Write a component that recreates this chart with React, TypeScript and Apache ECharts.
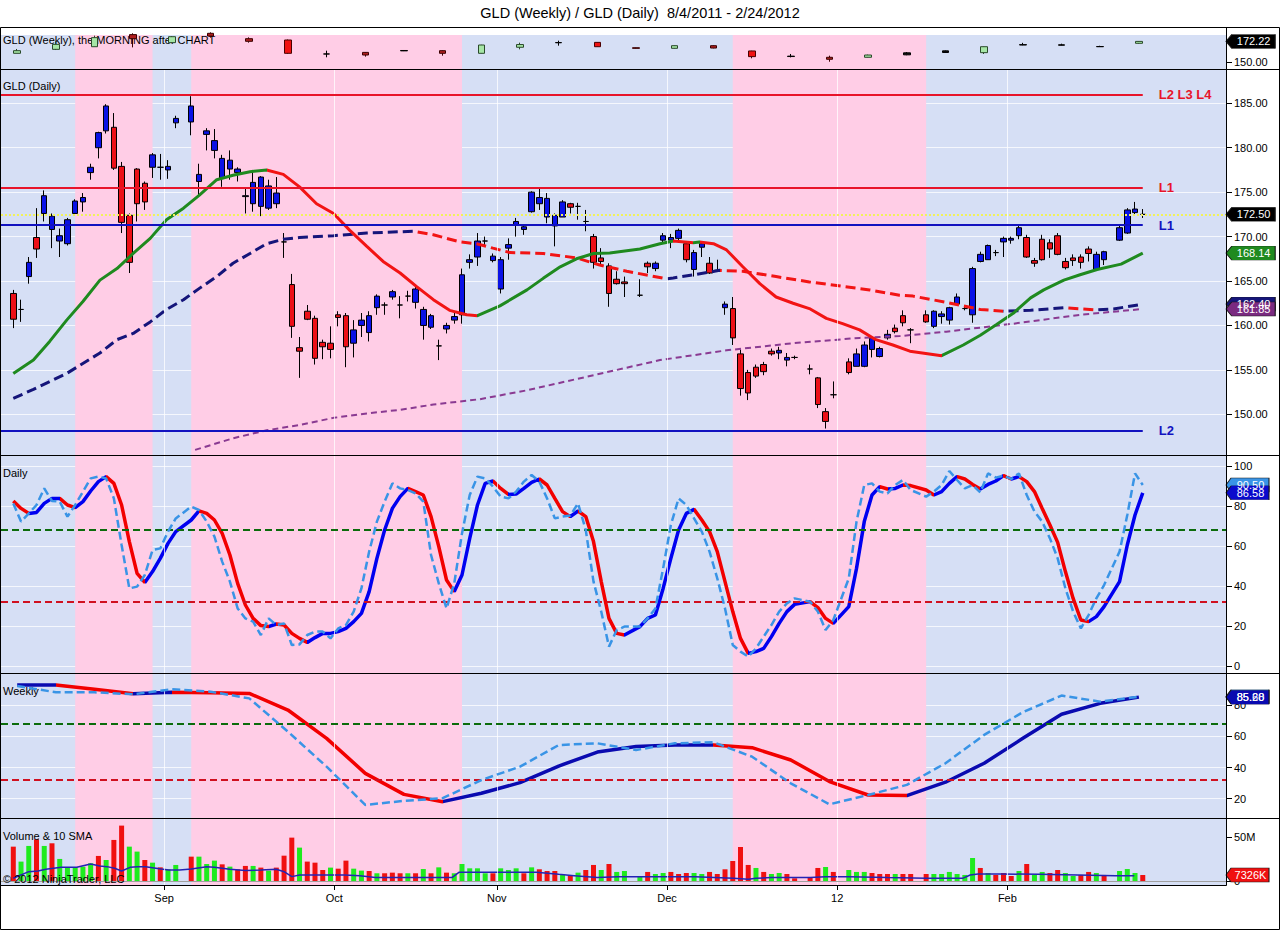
import React, { useEffect, useRef } from 'react';
import * as echarts from 'echarts';

const FONT = '"Liberation Sans", Arial, Helvetica, sans-serif';

const TITLE = 'GLD (Weekly) / GLD (Daily)  8/4/2011 - 2/24/2012';
const FIRST_DAY = [2011, 7, 4];
const SLOT_COUNT = 147;
const MONTH_NAMES = ['Jan', 'Feb', 'Mar', 'Apr', 'May', 'Jun', 'Jul', 'Aug', 'Sep', 'Oct', 'Nov', 'Dec'];

// ---- Daily OHLC, one entry per weekday slot (null = exchange holiday) ----
const OPEN = [
  163.6, 161.8, 165.5, 169.9, 172.6, 170.8, 169.5, 169.2, 172.6, 173.9,
  177.2, 180.0, 181.9, 182.3, 177.9, 172.4, 177.6, 176.0, 177.8, 177.8,
  177.5, 182.8, null, 182.9, 176.2, 181.5, 179.7, 176.6, 177.6, 177.2,
  174.5, 173.7, 173.4, 173.2, 173.7, 169.4, 164.6, 157.5, 161.6, 160.8,
  158.1, 158.0, 161.2, 161.1, 158.0, 160.0, 159.2, 162.0, 162.3, 163.2,
  162.3, 163.3, 162.6, 160.0, 159.8, 157.7, 159.6, 160.6, 161.2, 167.1,
  167.7, 169.5, 167.3, 164.1, 168.7, 171.3, 170.8, 172.8, 173.7, 172.2,
  171.2, 172.2, 173.7, 173.4, 171.7, 170.0, 167.6, 166.7, 165.2, 164.9,
  null, 163.4, 167.0, 166.4, 169.6, 169.6, 169.8, 169.2, 166.3, 168.8,
  167.0, 166.2, 162.0, 161.9, 156.8, 154.7, 155.3, 155.6, 157.1, 156.9,
  156.1, 156.4, null, 155.1, 154.1, 150.3, 152.2, null, 155.9, 155.4,
  155.4, 157.3, 156.5, 158.6, 159.7, 161.1, 159.5, null, 161.2, 159.9,
  161.0, 160.6, 162.4, 161.9, 161.2, 167.2, 167.4, 168.2, 169.4, 169.6,
  170.1, 169.9, 167.3, 169.7, 169.3, 170.1, 167.2, 167.6, 167.7, 168.6,
  166.3, 167.4, null, 169.6, 170.4, 172.7, 172.5,
];
const HIGH = [
  164.0, 162.9, 167.7, 173.2, 175.2, 172.6, 170.9, 172.1, 174.2, 174.9,
  178.2, 181.8, 184.9, 183.9, 178.4, 172.6, 177.7, 176.2, 179.4, 179.3,
  178.6, 183.6, null, 185.8, 178.2, 182.2, 182.1, 179.2, 179.7, 177.8,
  175.4, 177.5, 176.8, 176.4, 176.7, 170.4, 165.8, 158.7, 162.3, 161.1,
  158.4, 159.9, 161.6, 161.4, 160.6, 161.4, 161.6, 163.5, 162.6, 164.0,
  163.3, 163.9, 164.4, 162.1, 161.3, 158.4, 160.3, 161.4, 166.4, 168.0,
  170.4, 170.0, 168.1, 167.7, 169.8, 172.1, 171.4, 175.1, 175.4, 174.9,
  172.6, 174.1, 173.8, 173.8, 173.0, 170.3, 168.7, 167.0, 166.1, 165.5,
  null, 165.2, 167.2, 167.2, 170.4, 170.3, 170.9, 169.4, 168.5, 169.5,
  167.7, 167.4, 162.7, 163.2, 157.3, 155.0, 155.6, 155.9, 157.4, 157.6,
  156.9, 156.6, null, 155.6, 154.2, 150.7, 153.7, null, 156.3, 157.4,
  158.2, 158.8, 157.6, 159.5, 160.1, 161.7, 159.7, null, 161.7, 161.7,
  161.6, 162.1, 163.6, 162.3, 166.6, 168.3, 169.1, 168.5, 170.0, 170.0,
  171.2, 170.2, 167.6, 170.2, 169.7, 170.4, 167.6, 168.0, 168.0, 168.9,
  168.3, 168.4, null, 171.2, 173.2, 173.9, 173.1,
];
const LOW = [
  159.7, 160.4, 164.7, 167.6, 171.7, 168.7, 167.7, 169.0, 172.4, 172.8,
  176.4, 178.8, 181.6, 177.5, 170.4, 165.9, 171.7, 173.0, 176.6, 176.4,
  176.5, 182.2, null, 181.4, 174.5, 179.7, 178.8, 175.6, 176.4, 176.2,
  172.6, 172.8, 172.3, 173.0, 173.2, 167.6, 158.6, 154.1, 160.6, 155.6,
  156.2, 156.3, 159.9, 155.3, 156.4, 158.7, 158.2, 161.2, 161.2, 162.9,
  160.8, 162.7, 161.9, 158.4, 159.6, 156.1, 159.1, 160.2, 160.2, 166.4,
  166.7, 168.9, 167.1, 163.6, 167.4, 170.0, 170.2, 172.7, 173.0, 171.5,
  168.9, 172.2, 172.6, 171.9, 170.6, 166.4, 166.8, 162.1, 164.6, 163.2,
  null, 163.2, 165.9, 166.1, 169.2, 168.7, 169.6, 167.1, 165.5, 167.7,
  165.8, 166.1, 161.2, 157.8, 152.1, 151.6, 154.1, 154.4, 156.6, 156.2,
  155.4, 156.2, null, 154.5, 150.7, 148.4, 151.8, null, 154.5, 155.4,
  155.3, 156.4, 156.4, 158.4, 159.1, 159.9, 158.0, null, 160.3, 159.7,
  160.2, 160.1, 162.2, 161.7, 160.3, 167.1, 167.4, 167.8, 167.7, 169.2,
  169.7, 167.6, 166.6, 167.3, 167.6, 167.9, 166.3, 166.7, 166.4, 167.2,
  166.2, 166.8, null, 169.5, 170.3, 172.5, 172.1,
];
const CLOSE = [
  160.7, 161.8, 167.1, 168.6, 174.6, 172.3, 170.1, 171.9, 174.0, 174.4,
  177.8, 181.7, 184.7, 177.7, 171.6, 167.1, 173.7, 173.9, 179.2, 177.8,
  177.9, 183.3, null, 184.7, 177.0, 181.9, 180.8, 178.8, 178.6, 177.6,
  174.6, 176.1, 176.7, 175.7, 174.9, 169.4, 159.9, 157.1, 160.7, 156.3,
  157.6, 157.3, 160.9, 157.6, 159.5, 160.6, 161.1, 163.3, 162.3, 163.8,
  162.3, 163.3, 164.1, 161.8, 161.1, 157.7, 160.0, 161.0, 165.7, 167.4,
  169.5, 169.5, 167.8, 167.4, 169.1, 171.7, 171.1, 175.0, 174.4, 174.3,
  172.4, 173.9, 173.3, 173.4, 171.7, 167.1, 167.2, 163.6, 164.7, 164.7,
  null, 163.4, 166.6, 167.0, 170.1, 169.9, 170.7, 167.4, 168.2, 169.2,
  165.9, 166.2, 162.4, 158.6, 152.9, 152.4, 154.3, 154.8, 156.8, 157.2,
  156.4, 156.4, null, 155.1, 151.1, 149.2, 152.2, null, 154.7, 156.8,
  157.8, 158.6, 157.4, 159.0, 159.3, 160.3, 159.5, null, 160.4, 161.6,
  161.3, 162.0, 163.2, 161.9, 166.4, 168.0, 169.0, 168.2, 169.8, 169.8,
  171.0, 167.7, 167.0, 167.4, 168.6, 168.0, 166.5, 167.3, 167.1, 168.1,
  168.0, 168.3, null, 171.0, 173.0, 173.1, 172.5,
];

// ---- Daily volume (millions) and bar colour (g = up, r = down) ----
const VOLUME = [
  39.4, 22.5, 40.2, 47.7, 40.2, 43.2, 25.5, 16.0, 16.0, 16.8,
  20.6, 28.9, 24.3, 47.0, 63.2, 39.4, 33.8, 24.3, 21.3, 16.0,
  13.8, 18.7, null, 28.1, 28.1, 19.8, 23.6, 19.4, 16.8, 13.8,
  17.6, 17.6, 15.7, 12.3, 15.7, 29.2, 49.6, 38.3, 22.5, 21.3,
  13.0, 15.7, 14.5, 23.6, 14.5, 12.3, 11.9, 9.3, 9.3, 10.0,
  9.3, 9.3, 9.3, 14.1, 9.3, 16.0, 10.0, 9.3, 19.8, 14.9,
  14.9, 9.3, 9.3, 14.9, 13.0, 14.9, 9.3, 16.0, 13.8, 11.9,
  11.9, 7.4, 6.6, 10.0, 13.0, 18.7, 13.0, 19.8, 10.8, 11.9,
  null, 6.2, 10.8, 8.5, 9.6, 10.8, 8.5, 9.6, 9.6, 8.5,
  10.8, 8.5, 13.8, 23.2, 39.0, 18.7, 15.3, 10.8, 8.5, 9.6,
  8.5, 3.6, null, 5.1, 15.3, 16.4, 10.8, null, 13.0, 10.8,
  10.8, 9.6, 8.5, 8.5, 8.5, 8.5, 8.5, null, 8.5, 8.5,
  8.5, 10.8, 8.5, 7.4, 26.6, 15.3, 9.6, 7.4, 9.6, 6.2,
  11.9, 19.8, 7.4, 10.8, 9.6, 13.0, 9.6, 6.2, 7.4, 10.8,
  9.6, 7.4, null, 11.9, 14.1, 9.6, 7.326,
];
const VOL_DIR = (
  'rggrgrgggg' + 'grgrrggrgr' + 'gg-rgggrgr' + 'rgrgrrrgrr' + 'rgrrggrgrr' +
  'rgrgrgrggg' + 'ggrgggrgrr' + 'rgrgrrgrgg' + '-grggrrrgg' + 'rrrrrrgrgg' +
  'rr-rrgr-gg' + 'grrrgrr-rg' + 'gggggrgrrr' + 'grggrrggrr' + 'gr-gggr'
).split('');
const VOL_SMA = [
  [0, 3.6], [2, 11.1], [3.2, 11.9], [4.2, 13.8], [6.2, 16.0], [8.2, 16.0], [10, 19.8], [11.2, 17.6],
  [12.1, 16.8], [13.1, 14.9], [14, 11.9], [15.1, 16.0], [16.1, 16.8], [17.1, 16.8], [19.1, 14.1],
  [20.1, 13.0], [21.5, 13.0], [23, 14.1], [25, 16.8], [26, 16.0], [28, 13.8], [30, 12.3], [32, 13.0],
  [34, 13.8], [35, 11.1], [36, 5.5], [37, 7.4], [38, 7.4], [42.8, 7.4], [44.8, 6.6], [46.8, 4.4],
  [52.7, 4.4], [56.7, 4.4], [57.6, 10.4], [61.6, 10.4], [67.6, 10.4], [70.5, 8.1], [72.5, 6.6],
  [75.5, 4.4], [78.2, 5.5], [83.2, 5.5], [88.1, 5.5], [93.1, 3.6], [95, 2.5], [96, 3.6], [98, 4.4],
  [103, 4.4], [105, 5.5], [108, 5.5], [113, 4.4], [118, 3.6], [122.7, 3.6], [123.7, 7.4], [124.7, 8.5],
  [127.7, 8.5], [132.6, 8.1], [137.6, 7.4], [142.5, 6.6], [144.9, 6.6],
];

// ---- Moving averages on the daily panel: [slot, value] ----
const MA_FAST = [
  [0, 154.6], [2.6, 156.1], [4.7, 158.2], [6.9, 160.6], [9, 162.7], [11.2, 165.1], [13.4, 166.4],
  [15.5, 168.1], [17.7, 169.8], [19.8, 171.9], [22, 173.2], [24.1, 174.7], [26.3, 176.4], [28.4, 176.9],
  [30.6, 177.3], [32.75, 177.5], [34.9, 177.0], [37, 175.6], [39.2, 173.7], [41.4, 172.6], [43.5, 170.7],
  [45.7, 168.9], [47.8, 167.2], [50, 165.9], [52.1, 164.4], [54.3, 162.9], [56.4, 161.7], [58.6, 161.2],
  [60, 161.1], [62.9, 162.2], [66.4, 164.0], [68.5, 165.3], [70.7, 166.6], [72.8, 167.5], [75, 168.1],
  [77.1, 168.15], [81, 168.6], [83.6, 169.2], [85.3, 169.5], [87.9, 169.3], [88.7, 169.4], [90.5, 169.2],
  [92.2, 168.5], [94.3, 166.6], [96.5, 164.7], [98.6, 163.2], [100.8, 162.5], [102.9, 161.9],
  [105.1, 160.8], [107.2, 160.2], [109.4, 159.5], [111.5, 158.4], [113.7, 157.8], [115.9, 157.1],
  [120, 156.6], [122.8, 157.8], [125, 158.9], [127.1, 160.1], [129.3, 161.4], [131.5, 163.1],
  [133.2, 164.0], [135.8, 165.1], [137.9, 165.7], [140.1, 166.3], [143.2, 166.9], [146, 168.14],
];
const MA_MID = [
  [0, 151.8], [2.6, 152.8], [6.9, 154.6], [11.2, 156.9], [13.4, 158.4], [15.5, 159.1], [17.7, 160.4],
  [19.8, 161.8], [22, 162.9], [24.1, 164.2], [26.3, 165.5], [28.4, 167.0], [30.6, 168.1], [32.75, 169.2],
  [34.9, 169.7], [37, 169.9], [41.4, 170.1], [45.7, 170.4], [51.7, 170.6], [54.3, 170.2], [57.75, 169.4],
  [59.9, 169.2], [62, 168.7], [64.2, 168.2], [68.5, 168.1], [72.8, 167.6], [75.8, 166.8], [79.3, 166.1],
  [84.4, 165.25], [85.3, 165.35], [87.9, 165.7], [91.3, 166.2], [94.3, 166.1], [98.6, 165.5],
  [102.9, 164.9], [107.2, 164.4], [110.7, 164.0], [114.55, 163.4], [116.3, 163.3], [120.6, 162.6],
  [125, 161.8], [128, 161.6], [131.5, 161.7], [135.8, 162.0], [140.1, 161.75], [142.2, 161.85], [146, 162.4],
];
const MA_SLOW = [
  [23.5, 146.0], [28.4, 147.3], [32.75, 148.2], [37, 148.8], [41.4, 149.6], [45.7, 150.1], [50, 150.5],
  [54.3, 151.1], [60.3, 151.7], [66.4, 152.7], [75, 154.4], [83.6, 156.1], [92.2, 157.2], [100.8, 158.0],
  [109.4, 158.6], [114.6, 158.8], [120.6, 159.3], [129.3, 160.2], [137.9, 161.2], [146, 161.85],
];

// ---- Horizontal levels ----
const LEVEL_VALUES = [186.0, 175.5, 171.3, 148.2];
const LEVEL_LABELS = ['L2 L3 L4', 'L1', 'L1', 'L2'];
const LEVEL_SIDE = ['r', 'r', 'b', 'b'];

// ---- Daily stochastic: [slot, value] ----
const STOCH_D = [
  [0, 82.5], [1, 78.8], [2, 76.3], [3, 76.8], [4, 81.3], [5, 83.8], [6, 83.8], [7, 80.5], [8, 79.2], [9, 82.2],
  [10, 87.5], [11, 92.2], [12, 94.7], [13, 91.3], [14, 80.5], [15, 62.2], [16, 46.3], [17, 41.8], [18, 47.2],
  [19, 53.8], [20, 61.3], [21, 67.2], [23, 73.0], [24, 77.6], [25, 76.3], [26, 73.0], [27, 66.3], [28, 55.5],
  [29, 41.3], [30, 30.5], [31, 23.8], [32, 20.2], [33, 19.7], [34, 21.0], [35, 20.5], [36, 16.3], [37, 13.8],
  [38, 11.8], [39, 14.2], [40, 16.3], [41, 16.3], [42, 17.2], [43, 18.8], [44, 22.2], [45, 26.3], [46, 37.2],
  [47, 53.8], [48, 68.0], [49, 78.8], [50, 84.7], [51, 88.8], [52, 87.2], [53, 85.5], [54, 74.7], [55, 59.7],
  [56, 43.0], [57, 37.2], [58, 45.5], [59, 63.8], [60, 80.5], [61, 91.3], [62, 92.5], [63, 88.8], [64, 85.8],
  [65, 86.0], [66, 88.8], [67, 91.8], [68, 93.5], [69, 90.5], [70, 83.8], [71, 77.2], [72, 74.7], [73, 77.5],
  [74, 74.7], [75, 62.2], [76, 42.2], [77, 23.8], [78, 16.3], [79, 15.5], [81, 19.7], [82, 23.8], [83, 25.5],
  [84, 38.8], [85, 53.8], [86, 68.0], [87, 76.3], [88, 78.3], [89, 73.0], [90, 67.2], [91, 57.2], [92, 42.2],
  [93, 27.2], [94, 13.8], [95, 6.3], [96, 7.2], [97, 8.8], [98, 14.7], [99, 21.3], [100, 27.2], [101, 30.8],
  [103, 32.2], [104, 29.2], [105, 23.8], [106, 21.3], [108, 29.7], [109, 48.8], [110, 72.2], [111, 85.5],
  [112, 89.7], [113, 88.5], [114, 88.8], [115, 90.5], [116, 90.2], [118, 88.0], [119, 85.5], [120, 87.2],
  [121, 91.3], [122, 94.7], [123, 93.5], [124, 90.8], [125, 88.5], [126, 90.8], [127, 92.5], [128, 95.2],
  [129, 93.5], [130, 94.7], [131, 92.2], [132, 87.2], [133, 78.8], [134, 70.5], [135, 61.8], [136, 47.2],
  [137, 33.8], [138, 23.0], [139, 22.2], [140, 24.7], [141, 29.7], [143, 42.2], [144, 60.5], [145, 75.5],
  [146, 86.58],
];
const STOCH_K = [
  [0, 81.3], [1, 72.2], [2, 76.3], [3, 80.5], [4, 88.8], [5, 82.5], [6, 82.2], [7, 74.7], [8, 80.5], [9, 87.2],
  [10, 93.8], [11, 94.7], [12, 93.8], [13, 83.8], [14, 60.5], [15, 38.8], [16, 39.7], [17, 45.5], [18, 58.0],
  [19, 58.8], [20, 67.2], [21, 73.8], [23, 79.7], [24, 78.0], [25, 72.2], [26, 64.7], [27, 52.2], [28, 42.2],
  [29, 28.8], [30, 23.8], [31, 22.2], [32, 15.5], [33, 23.8], [34, 20.5], [35, 21.3], [36, 10.5], [37, 10.8],
  [38, 15.5], [39, 17.2], [40, 17.2], [41, 13.8], [42, 18.8], [43, 20.5], [44, 27.2], [45, 38.8], [46, 57.2],
  [47, 72.2], [48, 82.2], [49, 91.3], [50, 88.8], [51, 88.0], [52, 86.3], [53, 82.2], [54, 55.5], [55, 41.3],
  [56, 28.8], [57, 41.3], [58, 66.3], [59, 85.5], [60, 94.7], [61, 93.8], [62, 89.7], [63, 84.7], [64, 83.8],
  [65, 87.2], [66, 92.2], [67, 95.5], [68, 92.2], [69, 83.8], [70, 73.8], [71, 74.7], [72, 75.2], [73, 81.3],
  [74, 68.0], [75, 42.2], [76, 27.2], [77, 9.7], [78, 18.0], [79, 19.7], [81, 19.7], [82, 23.8], [83, 28.8],
  [84, 48.8], [85, 70.5], [86, 83.8], [87, 80.5], [88, 73.8], [89, 67.2], [90, 57.2], [91, 43.8], [92, 28.8],
  [93, 10.5], [94, 7.2], [95, 4.7], [96, 8.8], [97, 14.7], [98, 20.5], [99, 27.2], [100, 31.3], [101, 33.8],
  [103, 32.2], [104, 27.2], [105, 18.0], [106, 23.0], [108, 43.8], [109, 72.2], [110, 90.5], [111, 91.3],
  [112, 87.2], [113, 86.3], [114, 90.5], [115, 93.0], [116, 88.0], [118, 84.7], [119, 87.2], [120, 90.5],
  [121, 97.5], [122, 93.0], [123, 88.8], [124, 90.5], [125, 86.8], [126, 96.3], [127, 94.2], [128, 95.2],
  [129, 93.5], [130, 96.3], [131, 85.5], [132, 77.2], [133, 72.2], [134, 63.8], [135, 53.8], [136, 38.8],
  [137, 27.2], [138, 18.8], [139, 25.5], [140, 33.8], [141, 40.5], [143, 57.2], [144, 75.5], [145, 96.3],
  [146, 90.5],
];
const STOCH_UPPER = 68;
const STOCH_LOWER = 32;

// ---- Weekly bars (30 weeks) ----
const W_OPEN = [159.6, 163.8, 166.6, 179.4, 170.9, 180.8, 175.1, 173.7, 158.9, 160.6, 162.6, 162.4, 159.6, 166.0, 170.8, 171.2, 165.5, 164.9, 167.7, 162.1, 156.6, 155.4, 155.4, 158.0, 160.5, 160.3, 168.4, 168.2, 166.6, 170.2];
const W_HIGH = [164.2, 172.3, 178.3, 180.8, 177.8, 181.8, 176.5, 174.2, 162.4, 161.0, 162.8, 162.8, 168.6, 170.9, 173.0, 171.4, 165.7, 167.9, 168.1, 162.3, 158.9, 157.1, 158.2, 161.0, 162.6, 166.8, 170.7, 169.8, 167.6, 172.5];
const W_LOW = [159.6, 163.1, 166.6, 165.9, 170.5, 176.2, 170.9, 159.0, 155.4, 156.1, 162.0, 157.1, 159.4, 163.8, 167.7, 166.4, 164.6, 164.7, 164.9, 154.3, 155.3, 150.7, 155.2, 157.6, 160.2, 158.9, 168.2, 168.0, 166.4, 169.8];
const W_CLOSE = [162.4, 169.1, 176.2, 175.1, 177.2, 177.9, 172.3, 159.6, 158.9, 157.8, 162.2, 159.6, 168.4, 168.9, 171.0, 166.6, 164.9, 167.7, 165.2, 156.1, 156.2, 153.3, 157.8, 160.1, 162.2, 166.6, 168.8, 168.6, 166.8, 172.22];
const W_CLASS = 'gggdgddrkdkdggkrdgdrkdgkkgkkkg'.split('');
const W_STOCH_D = [93.1, 93.1, 90.3, 87.5, 88.4, 88.1, 87.7, 77.0, 58.8, 36.3, 22.8, 18.1, 23.5, 30.3, 41.0, 50.0, 53.5, 54.5, 54.5, 52.8, 44.9, 31.0, 22.4, 22.0, 30.6, 42.8, 58.8, 74.3, 81.3, 85.28];
const W_STOCH_K = [92.5, 88.4, 88.4, 87.1, 90.3, 88.8, 84.5, 63.1, 40.6, 16.0, 18.6, 20.3, 32.0, 40.6, 54.5, 55.6, 51.3, 55.6, 56.3, 47.0, 29.9, 16.4, 22.4, 28.9, 42.8, 61.0, 75.6, 86.3, 82.4, 85.6];
const PINK_WEEK_RANGES = [[2, 3], [5, 11], [19, 23]];

// ---- styling ----
const BG_BLUE = '#D6DFF5';
const BG_PINK = '#FFCDE6';
const GRID_WHITE = 'rgba(255,255,255,0.75)';
const UP_BLUE = '#0A12E6';
const DOWN_RED = '#EC1018';
const VOL_GREEN = '#1EEB1E';
const VOL_RED = '#F01010';
const MA_GREEN = '#1F8A1F';
const MA_RED = '#F21414';
const MA_NAVY = '#15157A';
const MA_PURPLE = '#8A3A92';
const ST_RED = '#F20000';
const ST_BLUE = '#0000F0';
const ST_NAVY = '#0A0AB0';
const ST_LIGHT = '#3994E6';
const LEVEL_RED = '#E8142A';
const LEVEL_BLUE = '#1212C0';
const W_FILL: Record<string, string> = { g: '#A6E6A6', d: '#B01E1E', r: '#F01212', k: '#111111' };
const W_BORDER: Record<string, string> = { g: '#2A4A2A', d: '#3A0000', r: '#4A0000', k: '#000000' };

const X_MIN = -1.59;
const X_MAX = 156.76;

function slopePieces(pts: number[][], up: string, down: string) {
  const pieces: any[] = [];
  let prev = up;
  for (let i = 0; i < pts.length - 1; i++) {
    const d = pts[i + 1][1] - pts[i][1];
    const c = d > 0 ? up : d < 0 ? down : prev;
    prev = c;
    const last = pieces[pieces.length - 1];
    if (last && last.color === c) last.lt = pts[i + 1][0];
    else pieces.push({ gte: pts[i][0], lt: pts[i + 1][0], color: c });
  }
  pieces[0].gte = -1e6;
  pieces[pieces.length - 1].lt = 1e6;
  return pieces;
}

function badge(y: number, text: string, bg: string, fg = '#ffffff') {
  const w = text.length * 6.2 + 12;
  return {
    coord: [X_MAX, y],
    symbol: 'path://M0,7L7,0L60,0L60,14L7,14Z',
    symbolSize: [w, 14],
    symbolOffset: [w / 2, 0],
    symbolKeepAspect: false,
    itemStyle: { color: bg, borderColor: '#1a1a1a', borderWidth: 0.6 },
    label: {
      show: true, position: 'inside', formatter: text, color: fg,
      fontSize: 11, fontFamily: FONT, offset: [3, 0],
    },
  };
}

function buildOption() {
  const slotDates: Date[] = [];
  const d = new Date(FIRST_DAY[0], FIRST_DAY[1], FIRST_DAY[2]);
  while (slotDates.length < SLOT_COUNT) {
    const wd = d.getDay();
    if (wd !== 0 && wd !== 6) slotDates.push(new Date(d.getTime()));
    d.setDate(d.getDate() + 1);
  }
  const monthTicks: { value: number; label: string }[] = [];
  for (let i = 1; i < slotDates.length; i++) {
    const m = slotDates[i].getMonth();
    if (m !== slotDates[i - 1].getMonth()) {
      monthTicks.push({
        value: i - 0.5,
        label: m === 0 ? String(slotDates[i].getFullYear()).slice(2) : MONTH_NAMES[m],
      });
    }
  }
  const tickVals = monthTicks.map((t) => t.value);
  const labelFor = (v: number) => {
    const t = monthTicks.find((m) => Math.abs(m.value - v) < 0.01);
    return t ? t.label : '';
  };

  const lastIdx = (arr: (number | null)[]) => {
    for (let i = arr.length - 1; i >= 0; i--) if (arr[i] != null) return i;
    return 0;
  };
  const lastClose = CLOSE[lastIdx(CLOSE)] as number;
  const lastSlot = lastIdx(CLOSE);

  const pinkAreas = PINK_WEEK_RANGES.map(([a, b]) => [{ xAxis: a * 5 - 2 }, { xAxis: b * 5 + 3 }]);
  const monthLines = tickVals.map((v) => ({ xAxis: v }));

  const grids = [
    { top: 35, height: 34 },
    { top: 69, height: 386 },
    { top: 455, height: 218 },
    { top: 673, height: 145 },
    { top: 818, height: 67 },
  ].map((g) => ({
    left: 1, right: 54, top: g.top, height: g.height,
    show: true, backgroundColor: BG_BLUE, borderWidth: 0,
  }));

  const xAxis = [0, 1, 2, 3, 4].map((g) => ({
    type: 'value', gridIndex: g, min: X_MIN, max: X_MAX, show: g === 4, position: 'bottom',
    axisLine: { show: false, onZero: false },
    axisTick: { show: true, length: 5, lineStyle: { color: '#000' }, customValues: tickVals },
    axisLabel: {
      show: true, customValues: tickVals, formatter: (v: number) => labelFor(v),
      color: '#000', fontSize: 11, fontFamily: FONT, margin: 7,
    },
    splitLine: { show: false },
  }));

  const yDefs = [
    { min: 143, max: 179, ticks: [150], fmt: (v: number) => v.toFixed(2), split: false },
    { min: 145.42, max: 188.86, ticks: [150, 155, 160, 165, 170, 175, 180, 185], fmt: (v: number) => v.toFixed(2), split: true },
    { min: -3.5, max: 105.5, ticks: [0, 20, 40, 60, 80, 100], fmt: (v: number) => String(v), split: true },
    { min: 7.6, max: 100.8, ticks: [20, 40, 60, 80], fmt: (v: number) => String(v), split: true },
    { min: -3.96, max: 71.8, ticks: [0, 50], fmt: (v: number) => (v === 0 ? '0' : v + 'M'), split: false },
  ];
  const yAxis = yDefs.map((y, g) => ({
    type: 'value', gridIndex: g, position: 'right', min: y.min, max: y.max,
    axisLine: { show: false, onZero: false },
    axisTick: { show: true, length: 6, lineStyle: { color: '#000' }, customValues: y.ticks },
    axisLabel: {
      show: true, customValues: y.ticks, formatter: y.fmt, color: '#000',
      fontSize: 11, fontFamily: FONT, margin: 8,
    },
    splitLine: { show: y.split, lineStyle: { color: GRID_WHITE, width: 1 } },
  }));

  const series: any[] = [];
  const visualMap: any[] = [];
  const add = (s: any) => { series.push(s); return series.length - 1; };

  // background series: pink weeks, month grid lines, stochastic levels, volume baseline
  for (let g = 0; g < 5; g++) {
    const extra: any[] = [];
    if (g === 2 || g === 3) {
      extra.push({ yAxis: STOCH_UPPER, lineStyle: { color: '#0B6B0B', width: 2, type: [7, 4] } });
      extra.push({ yAxis: STOCH_LOWER, lineStyle: { color: '#D01020', width: 2, type: [7, 4] } });
    }
    if (g === 4) extra.push({ yAxis: 0, lineStyle: { color: '#A0A0A0', width: 1, type: 'solid' } });
    add({
      type: 'line', xAxisIndex: g, yAxisIndex: g, data: [], z: 1, silent: true,
      markArea: { silent: true, itemStyle: { color: BG_PINK, opacity: 1 }, data: pinkAreas },
      markLine: {
        silent: true, symbol: ['none', 'none'], label: { show: false },
        lineStyle: { color: GRID_WHITE, width: 1, type: 'solid' },
        data: [...(g === 0 ? [] : monthLines), ...extra],
      },
    });
  }

  // weekly candles
  add({
    type: 'candlestick', xAxisIndex: 0, yAxisIndex: 0, barWidth: 7, clip: false, z: 3,
    data: W_OPEN.map((o, w) => {
      const c = W_CLASS[w];
      return {
        value: [w * 5 + 0.5, o, W_CLOSE[w], W_LOW[w], W_HIGH[w]],
        itemStyle: {
          color: W_FILL[c], color0: W_FILL[c], borderColor: W_BORDER[c],
          borderColor0: W_BORDER[c], borderColorDoji: W_BORDER[c], borderWidth: 1,
        },
      };
    }),
  });
  add({
    type: 'line', xAxisIndex: 0, yAxisIndex: 0, data: [], z: 8, silent: true,
    markPoint: { silent: true, data: [badge(W_CLOSE[W_CLOSE.length - 1], W_CLOSE[W_CLOSE.length - 1].toFixed(2), '#000000')] },
  });

  // daily candles
  const daily: any[] = [];
  for (let s = 0; s < SLOT_COUNT; s++) {
    if (OPEN[s] == null) continue;
    daily.push([s, OPEN[s], CLOSE[s], LOW[s], HIGH[s]]);
  }
  add({
    type: 'candlestick', xAxisIndex: 1, yAxisIndex: 1, barWidth: 6, z: 3,
    itemStyle: {
      color: UP_BLUE, color0: DOWN_RED, borderColor: '#000', borderColor0: '#000',
      borderColorDoji: '#000', borderWidth: 1,
    },
    data: daily,
  });

  // moving averages
  add({
    type: 'line', xAxisIndex: 1, yAxisIndex: 1, data: MA_SLOW, z: 4, showSymbol: false, symbol: 'none',
    lineStyle: { color: MA_PURPLE, width: 2, type: [6, 4] },
  });
  const midIdx = add({
    type: 'line', xAxisIndex: 1, yAxisIndex: 1, data: MA_MID, z: 4, showSymbol: false, symbol: 'none',
    lineStyle: { width: 3, type: [10, 5] },
  });
  visualMap.push({ type: 'piecewise', show: false, seriesIndex: midIdx, dimension: 0, pieces: slopePieces(MA_MID, MA_NAVY, MA_RED) });
  const fastIdx = add({
    type: 'line', xAxisIndex: 1, yAxisIndex: 1, data: MA_FAST, z: 4, showSymbol: false, symbol: 'none',
    lineStyle: { width: 3 },
  });
  visualMap.push({ type: 'piecewise', show: false, seriesIndex: fastIdx, dimension: 0, pieces: slopePieces(MA_FAST, MA_GREEN, MA_RED) });

  // levels, price line, badges on the daily panel
  const levelLines = LEVEL_VALUES.map((v, i) => {
    const col = LEVEL_SIDE[i] === 'r' ? LEVEL_RED : LEVEL_BLUE;
    return [
      {
        coord: [X_MIN, v],
        lineStyle: { color: col, width: 2, type: 'solid' },
        label: {
          show: true, position: 'end', formatter: LEVEL_LABELS[i], distance: 16,
          color: col, fontSize: 13, fontWeight: 'bold', fontFamily: FONT,
        },
      },
      { coord: [lastSlot, v] },
    ];
  });
  add({
    type: 'line', xAxisIndex: 1, yAxisIndex: 1, data: [], z: 6, silent: true,
    markLine: {
      silent: true, symbol: ['none', 'none'],
      data: [
        ...levelLines,
        { yAxis: lastClose, lineStyle: { color: '#F2F25A', width: 2, type: [2, 2] }, label: { show: false } },
      ],
    },
    markPoint: {
      silent: true,
      data: [
        badge(lastClose, lastClose.toFixed(2), '#000000'),
        badge(MA_FAST[MA_FAST.length - 1][1], MA_FAST[MA_FAST.length - 1][1].toFixed(2), MA_GREEN),
        badge(MA_MID[MA_MID.length - 1][1], MA_MID[MA_MID.length - 1][1].toFixed(2), MA_NAVY),
        badge(MA_SLOW[MA_SLOW.length - 1][1], MA_SLOW[MA_SLOW.length - 1][1].toFixed(2), '#7A2A80'),
      ],
    },
  });

  // daily stochastic
  const dIdx = add({
    type: 'line', xAxisIndex: 2, yAxisIndex: 2, data: STOCH_D, z: 4, showSymbol: false, symbol: 'none',
    lineStyle: { width: 3.5 },
  });
  visualMap.push({ type: 'piecewise', show: false, seriesIndex: dIdx, dimension: 0, pieces: slopePieces(STOCH_D, ST_BLUE, ST_RED) });
  add({
    type: 'line', xAxisIndex: 2, yAxisIndex: 2, data: STOCH_K, z: 5, showSymbol: false, symbol: 'none',
    lineStyle: { color: ST_LIGHT, width: 2.5, type: [8, 4] },
  });
  const kLast = STOCH_K[STOCH_K.length - 1][1];
  const dLast = STOCH_D[STOCH_D.length - 1][1];
  add({
    type: 'line', xAxisIndex: 2, yAxisIndex: 2, data: [], z: 8, silent: true,
    markPoint: { silent: true, data: [badge(kLast, kLast.toFixed(2), ST_LIGHT), badge(dLast, dLast.toFixed(2), '#0A0ACC')] },
  });

  // weekly stochastic
  const wD = W_STOCH_D.map((v, w) => [w * 5 + 0.5, v]);
  const wK = W_STOCH_K.map((v, w) => [w * 5 + 0.5, v]);
  const wdIdx = add({
    type: 'line', xAxisIndex: 3, yAxisIndex: 3, data: wD, z: 4, showSymbol: false, symbol: 'none',
    lineStyle: { width: 3.5 },
  });
  visualMap.push({ type: 'piecewise', show: false, seriesIndex: wdIdx, dimension: 0, pieces: slopePieces(wD, ST_NAVY, ST_RED) });
  add({
    type: 'line', xAxisIndex: 3, yAxisIndex: 3, data: wK, z: 5, showSymbol: false, symbol: 'none',
    lineStyle: { color: ST_LIGHT, width: 2.5, type: [8, 4] },
  });
  const wkLast = W_STOCH_K[W_STOCH_K.length - 1];
  const wdLast = W_STOCH_D[W_STOCH_D.length - 1];
  add({
    type: 'line', xAxisIndex: 3, yAxisIndex: 3, data: [], z: 8, silent: true,
    markPoint: { silent: true, data: [badge(wkLast, wkLast.toFixed(2), ST_LIGHT), badge(wdLast, wdLast.toFixed(2), ST_NAVY)] },
  });

  // volume
  const vol: any[] = [];
  for (let s = 0; s < SLOT_COUNT; s++) {
    if (VOLUME[s] == null) continue;
    vol.push({ value: [s, VOLUME[s]], itemStyle: { color: VOL_DIR[s] === 'g' ? VOL_GREEN : VOL_RED } });
  }
  add({ type: 'bar', xAxisIndex: 4, yAxisIndex: 4, barWidth: 5, z: 3, data: vol });
  add({
    type: 'line', xAxisIndex: 4, yAxisIndex: 4, data: VOL_SMA, z: 4, showSymbol: false, symbol: 'none',
    lineStyle: { color: '#2323B4', width: 1.5 },
  });
  const vLast = VOLUME[lastIdx(VOLUME)] as number;
  add({
    type: 'line', xAxisIndex: 4, yAxisIndex: 4, data: [], z: 8, silent: true,
    markPoint: { silent: true, data: [badge(vLast, Math.round(vLast * 1000) + 'K', VOL_RED)] },
  });

  const txt = (x: number, y: number, text: string, size: number, z: number, align = 'left') => ({
    type: 'text', x, y, z, silent: true,
    style: { text, fill: '#000', font: `${size}px ${FONT}`, align, verticalAlign: 'middle', textAlign: align, textVerticalAlign: 'middle' },
  });
  const ln = (x1: number, y1: number, x2: number, y2: number) => ({
    type: 'line', z: 30, silent: true,
    shape: { x1, y1, x2, y2 }, style: { stroke: '#000', lineWidth: 1 },
  });

  const graphic = [
    txt(640, 13, TITLE, 14.5, 30, 'center'),
    txt(3, 39.5, 'GLD (Weekly), the MORNING after CHART', 11, 2),
    txt(3, 86, 'GLD (Daily)', 11, 2),
    txt(3, 473, 'Daily', 11, 2),
    txt(3, 691, 'Weekly', 11, 2),
    txt(3, 836, 'Volume & 10 SMA', 11, 30),
    txt(3, 879, '\u00A9 2012 NinjaTrader, LLC', 11, 30),
    ln(0, 69.5, 1280, 69.5),
    ln(0, 455.5, 1280, 455.5),
    ln(0, 673.5, 1280, 673.5),
    ln(0, 818.5, 1280, 818.5),
    ln(0, 885.5, 1226.5, 885.5),
    ln(1226.5, 27, 1226.5, 885.5),
    {
      type: 'rect', z: 30, silent: true,
      shape: { x: 0.5, y: 27.5, width: 1279, height: 902 },
      style: { fill: 'none', stroke: '#000', lineWidth: 1 },
    },
  ];

  return {
    animation: false,
    backgroundColor: '#ffffff',
    grid: grids,
    xAxis,
    yAxis,
    visualMap,
    series,
    graphic: { elements: graphic },
  };
}

export default function App() {
  const ref = useRef<HTMLDivElement>(null);
  useEffect(() => {
    if (!ref.current) return;
    const chart = echarts.init(ref.current, null, { renderer: 'svg' });
    chart.setOption(buildOption() as any);
    return () => chart.dispose();
  }, []);
  return (
    <div
      ref={ref}
      style={{ position: 'fixed', left: 0, top: 0, width: 1280, height: 931, background: '#fff' }}
    />
  );
}
